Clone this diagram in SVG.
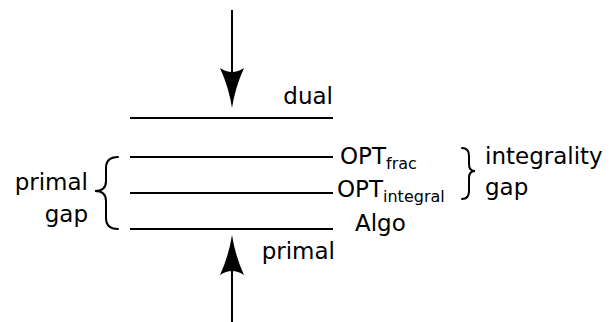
<svg xmlns="http://www.w3.org/2000/svg" width="610" height="322" viewBox="0 0 610 322">
<style>
.ln{stroke:#000;stroke-width:2;fill:none}
.br{stroke:#000;stroke-width:2;fill:none;stroke-linecap:round}
.t{font-family:"DejaVu Sans",sans-serif;font-size:23px;fill:#000}
.s{font-size:16px}
</style>
<defs>
<path id="head" d="M0,0 Q3,-20 12,-40 Q0,-32 -12,-40 Q-3,-20 0,0Z" fill="#000"/>
</defs>
<rect width="610" height="322" fill="#fff"/>
<g id="connectors">
<line class="ln" x1="232" y1="10" x2="232" y2="80"/>
<use href="#head" transform="translate(232,108)"/>
<line class="ln" x1="232" y1="262" x2="232" y2="322"/>
<use href="#head" transform="translate(232,235) rotate(180)"/>
</g>
<g id="dual">
<line class="ln" x1="130" y1="118" x2="333" y2="118"/>
<text class="t" x="333" y="104" text-anchor="end">dual</text>
</g>
<g id="optfrac">
<line class="ln" x1="130" y1="157" x2="333" y2="157"/>
<text class="t" x="340" y="164">OPT<tspan class="s" dy="5">frac</tspan></text>
</g>
<g id="optintegral">
<line class="ln" x1="130" y1="193" x2="333" y2="193"/>
<text class="t" x="337" y="197">OPT<tspan class="s" dy="5">integral</tspan></text>
</g>
<g id="algo">
<line class="ln" x1="130" y1="229" x2="333" y2="229"/>
<text class="t" x="355" y="231">Algo</text>
</g>
<g id="primal">
<text class="t" x="335" y="259" text-anchor="end">primal</text>
</g>
<g id="primalgap">
<path class="br" d="M118,157 Q106,157 106,168 L106,181 Q106,191 95,191 Q106,191 106,201 L106,218 Q106,229 118,229"/>
<text class="t" x="88" y="190" text-anchor="end">primal</text>
<text class="t" x="88" y="222" text-anchor="end">gap</text>
</g>
<g id="integralitygap">
<path class="br" d="M462,148 Q469,148 469,156 L469,164 Q469,171 475,171 Q469,171 469,178 L469,191 Q469,199 462,199"/>
<text class="t" x="485" y="164">integrality</text>
<text class="t" x="485" y="195">gap</text>
</g>
</svg>
